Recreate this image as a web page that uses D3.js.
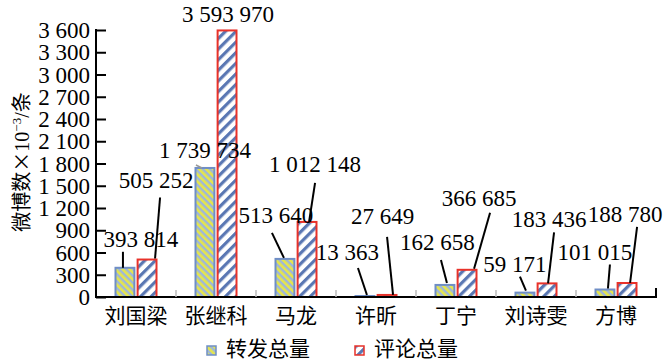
<!DOCTYPE html>
<html><head><meta charset="utf-8">
<script src="https://cdn.jsdelivr.net/npm/d3@7"></script>
<style>
html,body{margin:0;padding:0;background:#fff;}
svg{display:block;}
</style></head>
<body>
<script>
// ---- data ----
const categories = ["刘国梁","张继科","马龙","许昕","丁宁","刘诗雯","方博"];
const seriesNames = ["转发总量","评论总量"];
const reposts  = [393814, 1739734, 513640, 13363, 162658, 59171, 101015];
const comments = [505252, 3593970, 1012148, 27649, 366685, 183436, 188780];
const yTicks = [0,300,600,900,1200,1500,1800,2100,2400,2700,3000,3300,3600];

// ---- label layout (offsets from bar top-centre, px) ----
const labelLayout = [
  [{t:[16,-21], l:[[-2,-16],[-2,0]]}, {t:[9,-72], l:[[13,-62],[8,-1]]}],
  [{t:[0,-10], l:[[-9,-3],[-3,0]], gray:true}, {t:[1,-8], l:null}],
  [{t:[-9,-36], l:[[-13,-26],[-1,-1]]}, {t:[8,-50], l:[[8,-39],[2,0]]}],
  [{t:[-17.5,-36], l:[[-7,-28],[2,-1]]}, {t:[-4.5,-71], l:[[0,-58],[6,0]]}],
  [{t:[-7.5,-35], l:[[-4,-25],[2,-2]]}, {t:[12,-64], l:[[23,-57],[7,-1]]}],
  [{t:[-10,-21], l:[[-5,-16],[1,-2]]}, {t:[2,-56], l:[[7,-51],[1,0]]}],
  [{t:[-10,-30], l:[[5,-25],[3,-1]]}, {t:[-2,-61], l:[[10,-56],[3,0]]}]
];

const W = 668, H = 362;
const svg = d3.select("body").append("svg").attr("width", W).attr("height", H);
const serif = "'Liberation Serif','Times New Roman',serif";
const cjk = "'Noto Sans CJK SC','Noto Sans',sans-serif";

const mL = 96, mR = 656, mT = 30, mB = 297;

const x0 = d3.scaleBand().domain(categories).range([mL, mR]);
const bw = x0.bandwidth();
const x1 = d3.scaleBand().domain(seriesNames).range([bw/2 - 20.5, bw/2 + 20.5]).paddingInner(0.146);
const y = d3.scaleLinear().domain([0, 3600]).range([mB, mT]);

// patterns
const defs = svg.append("defs");
const p1 = defs.append("pattern").attr("id","pG").attr("patternUnits","userSpaceOnUse")
  .attr("width",5).attr("height",5).attr("patternTransform","rotate(-45)");
p1.append("rect").attr("width",5).attr("height",5).attr("fill","#9db6dc");
p1.append("rect").attr("width",2.6).attr("height",5).attr("fill","#e6e64a");
const p2 = defs.append("pattern").attr("id","pR").attr("patternUnits","userSpaceOnUse")
  .attr("width",7.5).attr("height",7.5).attr("patternTransform","rotate(45)");
p2.append("rect").attr("width",7.5).attr("height",7.5).attr("fill","#ffffff");
p2.append("rect").attr("width",3.2).attr("height",7.5).attr("fill","#5a77b3");

const fills = ["url(#pG)","url(#pR)"];
const strokes = ["#6f8ec6","#e8322a"];
const series = [reposts, comments];

// bars
const gBars = svg.append("g");
categories.forEach((c, i) => {
  series.forEach((vals, s) => {
    const v = vals[i] / 1000;
    const bx = x0(c) + x1(seriesNames[s]);
    gBars.append("rect")
      .attr("x", bx).attr("y", y(v))
      .attr("width", x1.bandwidth()).attr("height", Math.max(0, y(0) - y(v)))
      .attr("fill", fills[s]).attr("stroke", strokes[s]).attr("stroke-width", 2);
  });
});

// axes
const yAxis = d3.axisRight(y).tickValues(yTicks).tickSize(10).tickFormat("");
const gy = svg.append("g").attr("transform", `translate(${mL},0)`).call(yAxis);
gy.select(".domain").remove();
gy.selectAll(".tick line").attr("stroke","#000").attr("stroke-width",2);
svg.append("line").attr("x1",mL).attr("x2",mL).attr("y1",mT-1).attr("y2",mB+1)
  .attr("stroke","#000").attr("stroke-width",2);
const fmt = v => d3.format(",")(v).replace(/,/g," ");
svg.append("g").selectAll("text").data(yTicks).join("text")
  .attr("x", mL - 6).attr("y", d => y(d)).attr("dy","0.35em")
  .attr("text-anchor","end").attr("font-family",serif).attr("font-size",23)
  .text(d => fmt(d));

// x axis
svg.append("line").attr("x1",mL-1).attr("x2",mR+1).attr("y1",mB).attr("y2",mB)
  .attr("stroke","#000").attr("stroke-width",2);
svg.append("line").attr("x1",mR).attr("x2",mR).attr("y1",mB-9).attr("y2",mB)
  .attr("stroke","#000").attr("stroke-width",2);
svg.append("g").selectAll("line").data(categories.slice(1)).join("line")
  .attr("x1", d => x0(d)).attr("x2", d => x0(d)).attr("y1", mB-7).attr("y2", mB)
  .attr("stroke","#bbbbbb").attr("stroke-width",1.5);
svg.append("g").selectAll("text").data(categories).join("text")
  .attr("x", d => x0(d) + bw/2).attr("y", 323)
  .attr("text-anchor","middle").attr("font-family",cjk).attr("font-size",21)
  .text(d => d);

// data labels
const gl = svg.append("g");
categories.forEach((c, i) => {
  series.forEach((vals, s) => {
    const v = vals[i] / 1000;
    const cx = x0(c) + x1(seriesNames[s]) + x1.bandwidth()/2;
    const cy = y(v);
    const L = labelLayout[i][s];
    if (L.l) {
      gl.append("line")
        .attr("x1", cx + L.l[0][0]).attr("y1", cy + L.l[0][1])
        .attr("x2", cx + L.l[1][0]).attr("y2", cy + L.l[1][1])
        .attr("stroke", L.gray ? "#999" : "#000").attr("stroke-width", L.gray ? 1.5 : 2);
    }
    gl.append("text")
      .attr("x", cx + L.t[0]).attr("y", cy + L.t[1])
      .attr("text-anchor","middle").attr("font-family",serif).attr("font-size",23)
      .text(fmt(vals[i]));
  });
});

// y title
const yt = svg.append("text")
  .attr("transform","translate(29,162) rotate(-90)")
  .attr("text-anchor","middle").attr("font-size",20);
yt.append("tspan").attr("font-family",cjk).text("微博数×");
yt.append("tspan").attr("font-family",serif).text("10");
yt.append("tspan").attr("font-family",serif).attr("font-size",13).attr("dy",-8).text("−3");
yt.append("tspan").attr("font-family",serif).attr("dy",8).text("/");
yt.append("tspan").attr("font-family",cjk).text("条");

// legend
const leg = svg.append("g");
const legX = [207, 355];
seriesNames.forEach((n, s) => {
  leg.append("rect").attr("x", legX[s]).attr("y", 346).attr("width", 9).attr("height", 9)
    .attr("fill", fills[s]).attr("stroke", strokes[s]).attr("stroke-width", 1.5);
  leg.append("text").attr("x", legX[s] + 19).attr("y", 356)
    .attr("font-family", cjk).attr("font-size", 21).text(n);
});
</script>
</body></html>
